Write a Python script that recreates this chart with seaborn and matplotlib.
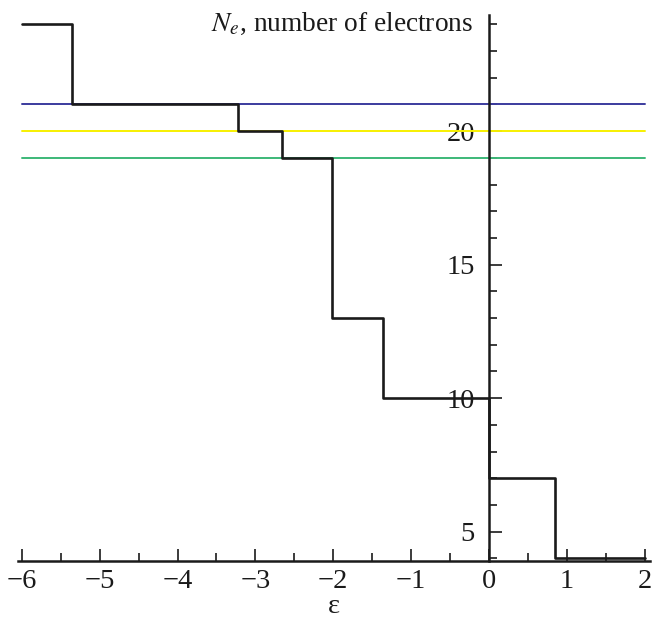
import numpy as np
import pandas as pd
import matplotlib
matplotlib.use("Agg")
import matplotlib.pyplot as plt
from matplotlib.ticker import MultipleLocator
import seaborn as sns

# Data: step function N_e(epsilon)
step_edges = [-6.0, -5.35, -3.22, -2.66, -2.01, -1.36, 0.0, 0.845, 2.0]
step_levels = [24, 21, 20, 19, 13, 10, 7, 4]
ref_levels = [21, 20, 19]
ref_colors = ["#3b3b9e", "#f7f000", "#3cb878"]
x_ticks = [-6, -5, -4, -3, -2, -1, 0, 1, 2]
y_ticks = [5, 10, 15, 20]

sns.set_theme(style="white")
plt.rcParams["font.family"] = ["Liberation Serif", "DejaVu Serif"]
plt.rcParams["mathtext.fontset"] = "stix"

# build step path
xs, ys = [], []
for i, lvl in enumerate(step_levels):
    xs += [step_edges[i], step_edges[i + 1]]
    ys += [lvl, lvl]
df = pd.DataFrame({"eps": xs, "Ne": ys, "order": range(len(xs))})

fig = plt.figure(figsize=(6.6, 6.22), dpi=100)
ax = fig.add_axes([18 / 660, 61 / 622, (650 - 18) / 660, (607 - 61) / 622])

for lvl, col in zip(ref_levels, ref_colors):
    ax.plot([-6, 2], [lvl, lvl], color=col, lw=1.4, zorder=1.5)

sns.lineplot(data=df, x="eps", y="Ne", sort=False, estimator=None,
             color="#1a1a1a", lw=1.9, ax=ax, zorder=2)

ax.set_xlim(-6.05, 2.07)
ax.set_ylim(3.9, 24.35)

for s in ["top", "right"]:
    ax.spines[s].set_visible(False)
ax.spines["left"].set_position(("data", 0))
ax.spines["bottom"].set_position(("data", 3.9))
for s in ["left", "bottom"]:
    ax.spines[s].set_color("#1a1a1a")
    ax.spines[s].set_linewidth(1.8)

ax.set_xticks(x_ticks)
ax.set_xticklabels(["\u2212" + str(-v) if v < 0 else str(v) for v in x_ticks])
ax.set_yticks(y_ticks)
ax.set_yticklabels([str(v) for v in y_ticks])
ax.xaxis.set_minor_locator(MultipleLocator(0.5))
ax.yaxis.set_minor_locator(MultipleLocator(1))
ax.tick_params(axis="both", which="both", bottom=True, left=True,
               top=False, right=False)
ax.tick_params(axis="both", which="major", direction="in", length=9, width=1.2,
               color="#1a1a1a", labelsize=20.5, labelcolor="#1a1a1a")
ax.tick_params(axis="both", which="minor", direction="in", length=6, width=1.2,
               color="#1a1a1a")
ax.tick_params(axis="x", which="major", pad=6)
ax.tick_params(axis="y", which="major", pad=10)
for lab in ax.get_yticklabels():
    lab.set_bbox(dict(facecolor="white", edgecolor="none", pad=2))
ax.grid(False)

ax.set_xlabel("\u03b5", fontsize=20.5, color="#1a1a1a", labelpad=0)
ax.set_ylabel("")
ax.text(-0.2, 24.0, r"$N_e$, number of electrons", fontsize=19.7,
        ha="right", va="center", color="#1a1a1a")

fig.savefig("out.png", dpi=100)
